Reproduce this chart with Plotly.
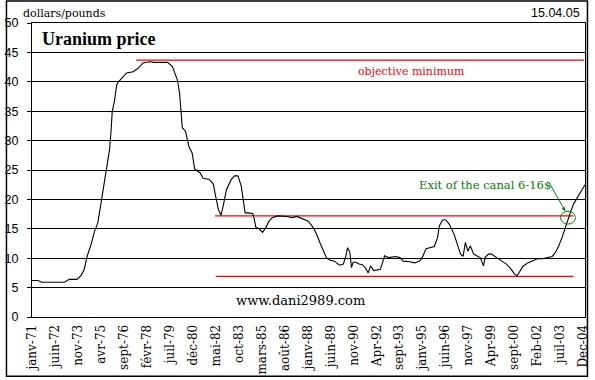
import plotly.graph_objects as go

# ---------------- data (months counted from January 1971) ----------------
month = [0, 4.4, 7.3, 24, 27.6, 33.2, 36.1, 38.5, 40.9, 43.8, 46.3, 48.7, 51.1, 53.1,
         55.5, 57.4, 58.4, 59.4, 61.0, 62.7, 64, 67.6, 70, 74.9, 78.5, 82.1, 87, 90.6,
         100.3, 103.9, 107.6, 109.2, 110, 111.2, 113.6, 116.1, 118.5, 120.3, 124.5,
         126.5, 131.2, 134.2, 135.4, 136.6, 137.9, 139.8, 141.5, 143.9, 147.5, 149.9,
         152.4, 154.8, 156, 157.7, 159.7, 163.3, 164.5, 165.7, 168.1, 170.6, 173, 175.4,
         177.8, 181.5, 188.7, 192.4, 196, 200.8, 204.4, 208.1, 210.5, 212.9, 215.3,
         217.8, 220.2, 223.8, 227.5, 230.4, 232.3, 233.5, 235.2, 236.4, 237.6, 239.6,
         242, 244.4, 246.9, 248.8, 250.5, 252.9, 257.8, 259.4, 260.9, 263.8, 268.7,
         272.3, 274.7, 279.6, 283.2, 286.8, 288.7, 291.6, 294.1, 297.7, 300.1, 301.4,
         303.8, 306.2, 308.7, 312.3, 314.7, 317.1, 319, 320.7, 322.5, 324.4, 326.8,
         329.2, 331.6, 334.1, 335.2, 337.7, 340.1, 343.8, 347.4, 351, 354.7, 357.1, 359,
         360.7, 363.2, 366.8, 370.4, 374, 377.7, 381.3, 384.9, 387.4, 389.8, 392.2,
         394.1, 395.9, 398.3, 400.7, 404.3, 406.8, 409.2]
price = [6.2, 6.2, 5.9, 5.9, 6.4, 6.4, 7.0, 8.0, 10.4, 12.4, 14.6, 16.0, 19.4, 22.3,
         25.9, 28.5, 31.3, 35.0, 36.7, 39.5, 40.0, 40.9, 41.5, 41.7, 42.3, 43.2, 43.4, 43.3,
         43.3, 42.6, 40.3, 38.1, 35.3, 32.2, 31.6, 29.0, 27.9, 25.2, 24.5,
         23.6, 23.4, 22.6, 21.1, 20.0, 18.3, 17.3, 18.9, 21.7, 23.4, 24.0,
         24.0, 22.3, 20.0, 17.7, 17.7, 17.6, 16.6, 15.2, 15.0, 14.4, 15.2, 16.3,
         16.9, 17.2, 17.1, 16.9, 17.1, 16.6, 16.3, 15.2, 14.1, 12.7, 11.5,
         10.1, 9.7, 9.5, 8.8, 9.0, 10.4, 11.8, 11.0, 8.4, 9.3, 9.3,
         9.0, 8.9, 8.3, 7.5, 8.7, 7.9, 8.1, 9.5, 10.4, 10.1, 10.3,
         10.1, 9.5, 9.4, 9.2, 9.5, 10.1, 11.6, 11.8, 12.0, 13.5, 15.5,
         16.5, 16.5, 15.8, 14.1, 12.4, 10.7, 10.3, 12.7, 11.2, 12.1, 10.7,
         10.4, 10.1, 8.7, 10.1, 10.7, 10.7, 10.1, 9.5, 9.0, 8.1, 7.3, 7.0,
         7.6, 8.6, 9.2, 9.5, 9.9, 9.9, 10.1, 10.3, 11.0, 12.1, 13.5,
         14.9, 16.3, 17.7, 19.2, 20.6, 21.4, 22.5]

tick_pos = [0, 17, 34, 51, 68, 85, 102, 119, 136, 153, 170, 187, 204, 221, 238, 255,
            272, 289, 306, 323, 340, 357, 374, 391, 408]
tick_text = ["janv-71", "juin-72", "nov-73", "avr-75", "sept-76", "févr-78", "juil-79",
             "déc-80", "mai-82", "oct-83", "mars-85", "août-86", "janv-88", "juin-89",
             "nov-90", "Apr-92", "sept-93", "janv-95", "juin-96", "nov-97", "Apr-99",
             "sept-00", "Feb-02", "juil-03", "Dec-04"]

objective_x = [77, 408.5]
objective_y = [43.7, 43.7]
canal_top_x = [135.4, 400.7]
canal_top_y = [17.2, 17.2]
canal_bottom_x = [136, 400.7]
canal_bottom_y = [6.9, 6.9]

# ---------------- layout geometry ----------------
W, H = 595, 380
L, R, T, B = 27, 5, 23, 62
PW, PH = W - L - R, H - T - B


def px(x):
    return (x - L) / PW


def py(y):
    return (H - B - y) / PH


RED = "#FF0000"
GREEN = "#008000"
SERIF = "DejaVu Serif"

fig = go.Figure()
fig.add_trace(go.Scatter(x=objective_x, y=objective_y, mode="lines",
                         line=dict(color=RED, width=1.3), hoverinfo="skip"))
fig.add_trace(go.Scatter(x=canal_top_x, y=canal_top_y, mode="lines",
                         line=dict(color=RED, width=1.3), hoverinfo="skip"))
fig.add_trace(go.Scatter(x=canal_bottom_x, y=canal_bottom_y, mode="lines",
                         line=dict(color=RED, width=1.3), hoverinfo="skip"))
fig.add_trace(go.Scatter(x=month, y=price, mode="lines",
                         line=dict(color="black", width=1.1)))

fig.update_layout(
    width=W, height=H, showlegend=False,
    margin=dict(l=L, r=R, t=T, b=B, pad=0),
    paper_bgcolor="white", plot_bgcolor="white",
    xaxis=dict(range=[0, 409.2], showgrid=False, zeroline=False,
               showline=True, linecolor="black", linewidth=1, mirror=True,
               tickmode="array", tickvals=tick_pos, ticktext=tick_text,
               tickangle=-90, ticks="", ticklabelstandoff=2,
               tickfont=dict(family=SERIF, size=12, color="black")),
    yaxis=dict(range=[0, 50], dtick=5, showgrid=True, gridcolor="black", gridwidth=1,
               zeroline=False, showline=True, linecolor="black", linewidth=1,
               mirror=True, ticks="outside", ticklen=4, tickcolor="black",
               ticklabelstandoff=6,
               tickfont=dict(family="Liberation Sans", size=12.5, color="black")),
)

# outer frame of the whole chart
fig.add_shape(type="rect", xref="paper", yref="paper",
              x0=px(1), x1=px(592.5), y0=py(1), y1=py(377.5),
              line=dict(color="black", width=1.5))

# highlight circle at the canal exit
fig.add_shape(type="circle", xref="x", yref="y",
              x0=391.1, x1=402.1, y0=15.8, y1=18.0,
              line=dict(color=GREEN, width=1))

ann = [
    dict(text="dollars/pounds", x=px(16), y=py(13), xanchor="left",
         font=dict(family=SERIF, size=11, color="black")),
    dict(text="15.04.05", x=px(587), y=py(13), xanchor="right",
         font=dict(family="Liberation Sans", size=12.5, color="black")),
    dict(text="<b>Uranium price</b>", x=px(35), y=py(39), xanchor="left",
         font=dict(family="Liberation Serif", size=18, color="black")),
    dict(text="objective minimum", x=px(413), y=py(72), xanchor="center",
         font=dict(family=SERIF, size=11, color=RED)),
    dict(text="www.dani2989.com", x=px(300), y=py(301), xanchor="center",
         font=dict(family=SERIF, size=13, color="black")),
    dict(text="Exit of the canal 6-16$", x=px(419), y=py(186), xanchor="left",
         font=dict(family=SERIF, size=11.5, color=GREEN)),
]
for a in ann:
    fig.add_annotation(xref="paper", yref="paper", showarrow=False,
                       yanchor="middle", **a)

fig.add_annotation(xref="x", yref="y", x=394.6, y=18.0, text="",
                   showarrow=True, ax=-17, ay=-30, arrowcolor=GREEN,
                   arrowhead=2, arrowsize=0.8, arrowwidth=1)

fig.write_html("out.html", config={"displayModeBar": False},
               post_script="document.body.style.margin='0';")
